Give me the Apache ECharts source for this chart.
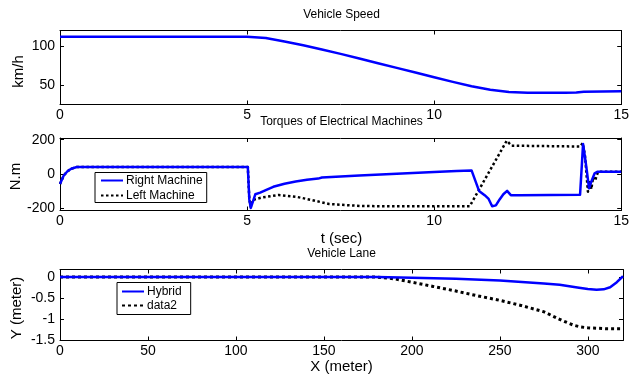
<!DOCTYPE html>
<html>
<head>
<meta charset="utf-8">
<script src="https://cdn.jsdelivr.net/npm/echarts@6/dist/echarts.min.js"></script>
<style>
  html, body { margin: 0; padding: 0; background: #fff; }
  #chart { width: 632px; height: 374px; }
</style>
</head>
<body>
<div id="chart"></div>
<script>
// Vehicle speed (km/h) over time (s)
const speedT = [0, 5, 5.5, 6, 6.5, 7, 7.5, 8, 8.5, 9, 9.5, 10, 10.5, 11, 11.5, 12, 12.5, 13.5, 13.8, 14, 15];
const speedV = [112, 112, 110.5, 106, 101, 95.5, 90, 84, 78, 72, 66, 60, 54, 48.5, 44, 41, 40, 40, 40.5, 41.5, 42];

// Right machine torque (N.m)
const rightT = [0, 0.1, 0.2, 0.3, 0.45, 0.6, 5.02, 5.06, 5.1, 5.15, 5.22, 5.35, 5.5, 5.7, 6.0, 6.3, 6.6, 6.9, 7.0, 7.5, 8, 9, 10, 10.6, 11.0,
                11.1, 11.2, 11.35, 11.45, 11.55, 11.65, 11.75, 11.85, 11.95, 12.05, 12.3, 13.9, 13.95, 13.98, 14.03, 14.08, 14.14, 14.2, 14.29, 14.36, 15];
const rightV = [-60, -10, 15, 30, 40, 40, 40, -150, -200, -195, -120, -110, -95, -76, -58, -45, -35, -28, -22, -16, -10, 1, 11, 17, 20,
                -40, -100, -125, -145, -190, -185, -150, -120, -100, -125, -125, -122, 60, 175, 100, 20, -85, -46, 3, 12, 12];

// Left machine torque (N.m)
const leftT = [0, 0.1, 0.2, 0.3, 0.45, 0.6, 5.02, 5.06, 5.1, 5.14, 5.41, 5.85, 6.3, 6.74, 7.19, 8.07, 9, 10, 10.95, 11.94, 12.07,
               13.9, 13.97, 14.03, 14.11, 14.16, 14.2, 14.25, 14.3, 14.38, 15];
const leftV = [-60, -10, 15, 30, 40, 40, 40, -150, -195, -154, -138, -124, -134, -154, -177, -189, -190, -190, -190, 194, 165,
               160, 180, 110, -105, -36, -90, -20, -40, 12, 12];

// Lateral position (m) against distance travelled (m)
const hybridX = [0, 180, 200, 225, 250, 275, 284, 295, 300, 305, 309, 312.7, 316.5, 320];
const hybridY = [0, 0, -0.015, -0.04, -0.08, -0.15, -0.18, -0.25, -0.28, -0.3, -0.29, -0.24, -0.12, 0.02];
const data2X = [0, 180, 190, 200, 212, 225, 237, 250, 262, 275, 285, 292, 296, 300, 310, 320];
const data2Y = [0, 0, -0.04, -0.12, -0.22, -0.33, -0.44, -0.55, -0.67, -0.82, -1.02, -1.14, -1.18, -1.2, -1.22, -1.22];

// Tick positions
const timeTicks = [0, 5, 10, 15];
const speedTicks = [50, 100];
const torqueTicks = [-200, 0, 200];
const laneXTicks = [0, 50, 100, 150, 200, 250, 300];
const laneYTicks = [-1.5, -1, -0.5, 0];

const FONT = "'Liberation Sans', Arial, Helvetica, sans-serif";
const BLUE = '#0000ff';

const zip = (a, b) => a.map((v, i) => [v, b[i]]);

const grids = [
  { left: 60, top: 30.5, width: 563, height: 74 },
  { left: 60, top: 138, width: 563, height: 72.5 },
  { left: 60, top: 269.5, width: 563, height: 71 }
];

function xPair(gi, min, max, ticks, margin) {
  const common = {
    type: 'value', gridIndex: gi, min: min, max: max,
    splitLine: { show: false },
    axisLine: { show: true, onZero: false, lineStyle: { color: '#000', width: 1 } },
    axisTick: { show: true, inside: true, length: 4, customValues: ticks, lineStyle: { color: '#000' } }
  };
  return [
    Object.assign({}, common, {
      position: 'bottom',
      axisLabel: { show: true, customValues: ticks, margin: margin, color: '#000', fontSize: 14, fontFamily: FONT }
    }),
    Object.assign({}, common, { position: 'top', axisLabel: { show: false } })
  ];
}

function yPair(gi, min, max, ticks) {
  const common = {
    type: 'value', gridIndex: gi, min: min, max: max,
    splitLine: { show: false },
    axisLine: { show: true, onZero: false, lineStyle: { color: '#000', width: 1 } },
    axisTick: { show: true, inside: true, length: 4, customValues: ticks, lineStyle: { color: '#000' } }
  };
  return [
    Object.assign({}, common, {
      position: 'left',
      axisLabel: { show: true, customValues: ticks, margin: 5, color: '#000', fontSize: 14, fontFamily: FONT }
    }),
    Object.assign({}, common, { position: 'right', axisLabel: { show: false } })
  ];
}

const xAxes = [].concat(
  xPair(0, 0, 15, timeTicks, 4),
  xPair(1, 0, 15, timeTicks, 4),
  xPair(2, 0, 320, laneXTicks, 4)
);
const yAxes = [].concat(
  yPair(0, 25, 120, speedTicks),
  yPair(1, -215, 210, torqueTicks),
  yPair(2, -1.5, 0.18, laneYTicks)
);

function lineSeries(name, xi, yi, data, color, width, dash) {
  return {
    name: name, type: 'line', xAxisIndex: xi, yAxisIndex: yi,
    data: data, symbol: 'none', smooth: false, animation: false,
    lineStyle: { color: color, width: width, type: dash || 'solid', cap: 'butt', join: 'round' },
    itemStyle: { color: color }
  };
}

function label(text, x, y, size, rot) {
  return {
    type: 'text', x: x, y: y, rotation: rot || 0, silent: true,
    style: { text: text, fill: '#000', font: size + 'px ' + FONT, align: 'center', verticalAlign: 'middle' }
  };
}

const legendBase = {
  orient: 'vertical', itemWidth: 22, itemHeight: 12,
  backgroundColor: '#fff', borderColor: '#000', borderWidth: 1, borderRadius: 0,
  itemStyle: { opacity: 0 },
  textStyle: { color: '#000', fontSize: 12, fontFamily: FONT, padding: [0, 0, 0, -2] }
};

const option = {
  backgroundColor: '#fff',
  animation: false,
  grid: grids,
  xAxis: xAxes,
  yAxis: yAxes,
  legend: [
    Object.assign({}, legendBase, {
      data: ['Right Machine', 'Left Machine'],
      left: 95, top: 172.5, padding: [2, 4, 1, 5], itemGap: 3
    }),
    Object.assign({}, legendBase, {
      data: ['Hybrid', 'data2'],
      left: 117, top: 282.5, padding: [3, 9, 3, 4], itemGap: 2
    })
  ],
  series: [
    lineSeries('Vehicle Speed', 0, 0, zip(speedT, speedV), BLUE, 2.5),
    lineSeries('Left Machine', 2, 2, zip(leftT, leftV), '#000', 2.5, [2.5, 2.5]),
    lineSeries('Right Machine', 2, 2, zip(rightT, rightV), BLUE, 2.5),
    lineSeries('data2', 4, 4, zip(data2X, data2Y), '#000', 3, [3, 3]),
    lineSeries('Hybrid', 4, 4, zip(hybridX, hybridY), BLUE, 2.5)
  ],
  graphic: [
    label('Vehicle Speed', 341.5, 15, 12),
    label('Torques of Electrical Machines', 341.5, 122, 12),
    label('Vehicle Lane', 341.5, 254, 12),
    label('t (sec)', 341.5, 238.5, 15),
    label('X (meter)', 341.5, 366.5, 15),
    label('km/h', 19, 71.5, 15, Math.PI / 2),
    label('N.m', 16, 176.5, 15, Math.PI / 2),
    label('Y (meter)', 17, 308, 15, Math.PI / 2)
  ]
};

const chart = echarts.init(document.getElementById('chart'), null, { renderer: 'canvas' });
chart.setOption(option);
</script>
</body>
</html>
